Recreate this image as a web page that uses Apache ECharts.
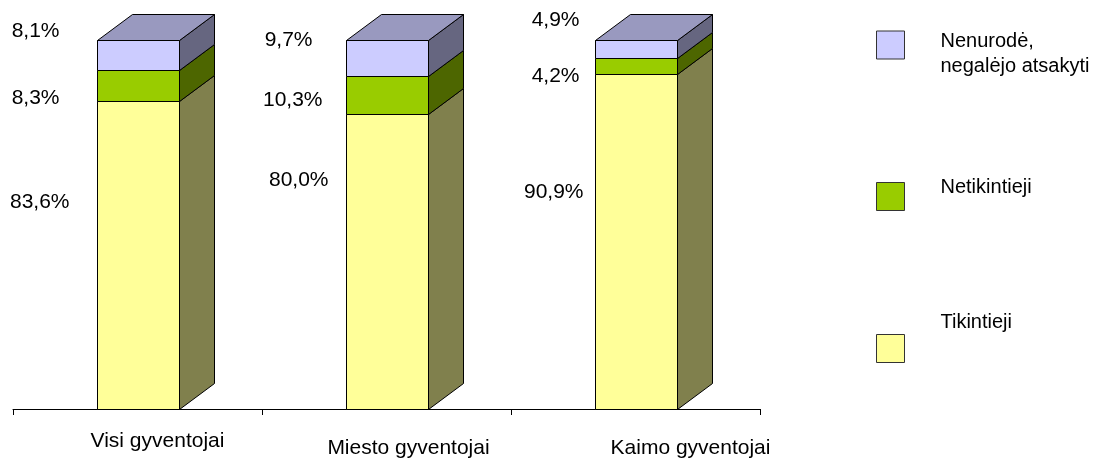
<!DOCTYPE html>
<html>
<head>
<meta charset="utf-8">
<script src="https://cdn.jsdelivr.net/npm/echarts@6/dist/echarts.min.js"></script>
<style>
html,body{margin:0;padding:0;background:#fff;}
#chart{width:1107px;height:459px;}
</style>
</head>
<body>
<div id="chart"></div>
<script>
// ---- data ----
const categories = ['Visi gyventojai', 'Miesto gyventojai', 'Kaimo gyventojai'];
const seriesNames = ['Tikintieji', 'Netikintieji', 'Nenurodė,\nnegalėjo atsakyti'];
const tikintieji = [83.6, 80.0, 90.9];
const netikintieji = [8.3, 10.3, 4.2];
const nenurode = [8.1, 9.7, 4.9];
const seriesValues = [tikintieji, netikintieji, nenurode];

// ---- styles ----
const FONT = 'Liberation Sans, Arial, sans-serif';
const frontColors = ['#FFFF99', '#99CC00', '#CCCCFF'];
const sideColors = ['#80804D', '#4D6600', '#666680'];
const topColor = '#9999BF';
const DX = 35, DY = 26;
// label offsets (from segment centre, relative to bar left edge) per series per category
const labelOffsets = [
  [[-28, -53], [-18, -82], [-12, -50]],
  [[-38, 12], [-24, 5], [-16, 10]],
  [[-38, -24], [-34, -18], [-16, -29]]
];
const fmt = v => v.toFixed(1).replace('.', ',') + '%';

const chart = echarts.init(document.getElementById('chart'), null, {renderer: 'canvas'});

const series = seriesValues.map((vals, s) => {
  const data = vals.map((v, i) => {
    let base = 0;
    for (let k = 0; k < s; k++) base += seriesValues[k][i];
    return [i, base, base + v, v];
  });
  return {
    type: 'custom',
    name: seriesNames[s],
    itemStyle: {color: frontColors[s], borderColor: '#333', borderWidth: 1},
    encode: {x: 0, y: [1, 2]},
    data: data,
    renderItem: function (params, api) {
      const cat = api.value(0), start = api.value(1), end = api.value(2), val = api.value(3);
      const p0 = api.coord([cat, start]);
      const p1 = api.coord([cat, end]);
      const bw = Math.round(api.size([1, 0])[0] * 0.33);
      const L = Math.round(p0[0] - bw / 2) + 0.5;
      const R = L + bw;
      const yB = Math.round(p0[1]) + 0.5;
      const yT = Math.round(p1[1]) + 0.5;
      const stroke = {stroke: '#000', lineWidth: 1};
      const children = [
        {type: 'rect', shape: {x: L, y: yT, width: bw, height: yB - yT},
          style: Object.assign({fill: frontColors[s]}, stroke)},
        {type: 'polygon', shape: {points: [[R, yB], [R + DX, yB - DY], [R + DX, yT - DY], [R, yT]]},
          style: Object.assign({fill: sideColors[s]}, stroke)}
      ];
      if (s === seriesValues.length - 1) {
        children.push({type: 'polygon', shape: {points: [[L, yT], [R, yT], [R + DX, yT - DY], [L + DX, yT - DY]]},
          style: Object.assign({fill: topColor}, stroke)});
      }
      const off = labelOffsets[s][cat];
      children.push({type: 'text', style: {
        text: fmt(val), x: L + off[0], y: (yB + yT) / 2 + off[1],
        align: 'right', verticalAlign: 'middle',
        font: '21px ' + FONT, fill: '#000'
      }});
      return {type: 'group', children: children};
    }
  };
});

// legend text: spacer lines shift the text against the square
const legendText = {
  fontSize: 20, fontFamily: FONT, color: '#000', lineHeight: 25,
  padding: [0, 0, 0, 31],
  rich: {
    t: {fontSize: 20, fontFamily: FONT, color: '#000', lineHeight: 25},
    s18a: {fontSize: 10, lineHeight: 18},
    s18: {fontSize: 10, lineHeight: 18},
    s52: {fontSize: 10, lineHeight: 52}
  }
};
const legendBase = {
  orient: 'vertical', left: 876, padding: 0, icon: 'rect',
  itemWidth: 28, itemHeight: 28, selectedMode: false,
  itemStyle: {borderColor: '#333', borderWidth: 1},
  textStyle: legendText
};
const wrapLines = name => name.split('\n').map(l => '{t|' + l + '}').join('\n');

const option = {
  backgroundColor: '#fff',
  animation: false,
  grid: {left: 13, right: 347, top: 40, bottom: 48, containLabel: false},
  xAxis: {
    type: 'category', data: categories, boundaryGap: true,
    axisLine: {lineStyle: {color: '#000', width: 1}},
    axisTick: {show: true, interval: 0, length: 6, lineStyle: {color: '#000'}},
    axisLabel: {
      interval: 0, hideOverlap: false,
      margin: 22, color: '#000', fontSize: 21, fontFamily: FONT,
      formatter: (v, i) => '{c' + i + '|' + v + '}',
      rich: {
        c0: {fontSize: 21, fontFamily: FONT, color: '#000', padding: [0, 0, 0, 40]},
        c1: {fontSize: 21, fontFamily: FONT, color: '#000', padding: [7, 0, 0, 44]},
        c2: {fontSize: 21, fontFamily: FONT, color: '#000', padding: [7, 0, 0, 110]}
      }
    },
    splitLine: {show: false}
  },
  yAxis: {type: 'value', min: 0, max: 100, show: false},
  legend: [
    Object.assign({}, legendBase, {top: 11, data: [seriesNames[2]],
      formatter: n => '{s18a| }\n' + wrapLines(n)}),
    Object.assign({}, legendBase, {top: 175, data: [seriesNames[1]],
      formatter: n => wrapLines(n) + '\n{s18| }'}),
    Object.assign({}, legendBase, {top: 310, data: [seriesNames[0]],
      formatter: n => wrapLines(n) + '\n{s52| }'})
  ],
  series: series
};
chart.setOption(option);
</script>
</body>
</html>
